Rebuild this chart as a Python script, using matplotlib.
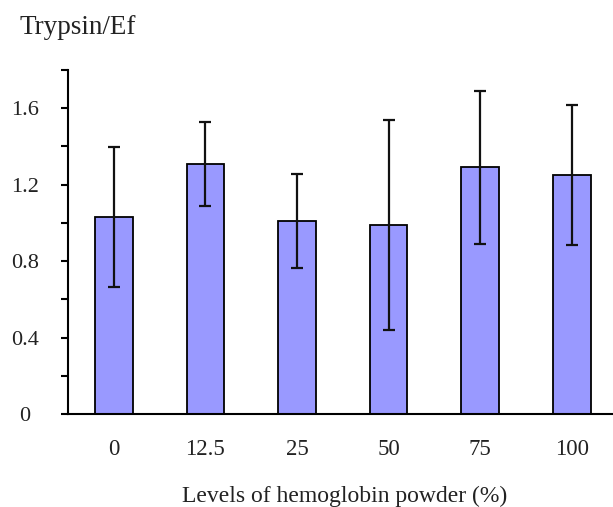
import numpy as np
import matplotlib
import matplotlib.pyplot as plt
from matplotlib.ticker import MultipleLocator

matplotlib.use('Agg')

# data
levels = ['0', '12.5', '25', '50', '75', '100']
trypsin_mean = [1.03, 1.31, 1.01, 0.99, 1.29, 1.25]
trypsin_sd = [0.365, 0.22, 0.245, 0.55, 0.40, 0.365]

plt.rcParams['font.family'] = ['Liberation Serif', 'DejaVu Serif']

W, H = 613, 507
fig = plt.figure(figsize=(W / 100, H / 100), dpi=100)
ax = fig.add_axes([68 / W, (H - 414) / H, (W - 68) / W, (414 - 70) / H])

x = np.arange(len(levels))
ax.bar(x, trypsin_mean, width=0.41, color='#9999ff', edgecolor='black', linewidth=1.3, zorder=2)
ax.errorbar(x, trypsin_mean, yerr=trypsin_sd, fmt='none', ecolor='#111111',
            elinewidth=1.6, capsize=4.5, capthick=1.6, zorder=3)

# the right end of the axis is cut at the image edge
ax.set_xlim(-0.5, 5.45)
ax.set_ylim(0, 1.8)
ax.yaxis.set_minor_locator(MultipleLocator(0.2))
ax.set_yticks([0, 0.4, 0.8, 1.2, 1.6])
ax.set_yticklabels(['0', '0.4', '0.8', '1.2', '1.6'], fontsize=16, color='#222222', ha='center')
ax.tick_params(axis='y', which='both', direction='out', length=5, width=1.5, pad=26)
ax.set_xticks(x)
ax.set_xticklabels(levels, fontsize=16.5, color='#222222')
ax.tick_params(axis='x', length=0, pad=18)

for s in ['top', 'right']:
    ax.spines[s].set_visible(False)
for s in ['left', 'bottom']:
    ax.spines[s].set_linewidth(1.5)

fig.text(345 / W, (H - 502) / H, 'Levels of hemoglobin powder (%)', fontsize=17,
         ha='center', va='baseline', color='#222222')
fig.text(20 / W, (H - 34) / H, 'Trypsin/Ef', fontsize=19.5, ha='left', va='baseline',
         color='#222222')

fig.savefig('out.png', dpi=100)
